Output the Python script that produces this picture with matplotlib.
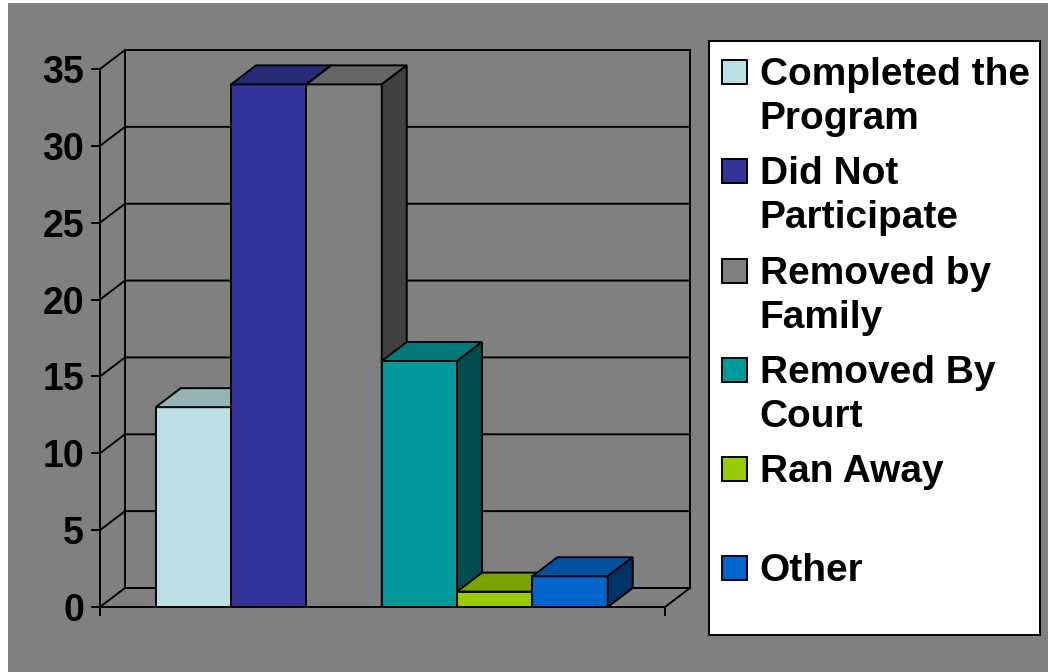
import matplotlib
matplotlib.use("Agg")
import matplotlib.pyplot as plt
from matplotlib.colors import to_rgb
from matplotlib.patches import Polygon, Rectangle

plt.rcParams["font.family"] = ["Liberation Sans", "DejaVu Sans"]

categories = ["Completed the\nProgram", "Did Not\nParticipate", "Removed by\nFamily",
              "Removed By\nCourt", "Ran Away", "Other"]
values = [13, 34, 34, 16, 1, 2]
colors = ["#BBE0E3", "#333399", "#808080", "#009999", "#99CC00", "#0066CC"]
yticks = [0, 5, 10, 15, 20, 25, 30, 35]

# depth of the fake 3D box, in data units
DX = 25 / 75.33
DY = 19 / 15.37
LW = 1.4


def shade(color, factor):
    return tuple(c * factor for c in to_rgb(color))


W, H = 1048, 672
fig = plt.figure(figsize=(W / 100, H / 100), dpi=100, facecolor="white")


def pixel_axes(zorder):
    # full-figure axes measured in pixels, for backdrop and legend box
    a = fig.add_axes([0, 0, 1, 1], zorder=zorder)
    a.set_xlim(0, W)
    a.set_ylim(H, 0)
    a.axis("off")
    return a


bg = pixel_axes(0)
bg.add_patch(Rectangle((8, 3), W - 8, H - 3, facecolor="#808080", edgecolor="none"))

ax = fig.add_axes([100 / W, 1 - 607 / H, 565 / W, 538 / H], zorder=1)
ax.patch.set_visible(False)
ax.set_xlim(-0.74, 6.76)
ax.set_ylim(0, 35)
x0, x1 = ax.get_xlim()

# back wall, floor and side wall
wall = dict(color="black", lw=LW, clip_on=False, zorder=1, solid_capstyle="projecting")
for t in yticks:
    ax.plot([x0, x0 + DX, x1 + DX], [t, t + DY, t + DY], **wall)
ax.plot([x0 + DX, x0 + DX], [DY, 35 + DY], **wall)
ax.plot([x1 + DX, x1 + DX], [DY, 35 + DY], **wall)
ax.plot([x1, x1 + DX], [0, DY], **wall)

# left to right, so each bar hides the side of the one before it
for i, (v, c) in enumerate(zip(values, colors)):
    z = 3 + i
    ax.bar(i, v, width=1.0, align="edge", color=c, edgecolor="black", linewidth=LW, zorder=z)
    top = [(i, v), (i + DX, v + DY), (i + 1 + DX, v + DY), (i + 1, v)]
    side = [(i + 1, 0), (i + 1 + DX, DY), (i + 1 + DX, v + DY), (i + 1, v)]
    for pts, f in ((top, 0.8), (side, 0.5)):
        ax.add_patch(Polygon(pts, closed=True, facecolor=shade(c, f), edgecolor="black",
                             linewidth=LW, zorder=z, clip_on=False))

for s in ("top", "right"):
    ax.spines[s].set_visible(False)
for s in ("left", "bottom"):
    ax.spines[s].set_linewidth(LW)
ax.set_yticks(yticks)
ax.set_xticks([x0, x1])
ax.set_xticklabels([])
ax.tick_params(axis="both", length=6.5, width=LW, direction="out")
ax.tick_params(axis="y", labelsize=27, pad=5)
for lab in ax.get_yticklabels():
    lab.set_fontweight("bold")

# legend box, drawn by hand: swatches sit on the first line of each label
lg = pixel_axes(2)
lg.add_patch(Rectangle((709, 41), 331, 594, facecolor="white", edgecolor="black", linewidth=LW))
rows = [72, 171, 271, 370, 469, 568]
for label, c, y in zip(categories, colors, rows):
    lg.add_patch(Rectangle((722, y - 12.5), 25, 24, facecolor=c, edgecolor="black", linewidth=LW))
    lg.text(759.5, y - 15, label, fontsize=28, fontweight="bold", color="black",
            va="top", ha="left", linespacing=1.29)

fig.savefig("out.png", dpi=100, facecolor=fig.get_facecolor())
